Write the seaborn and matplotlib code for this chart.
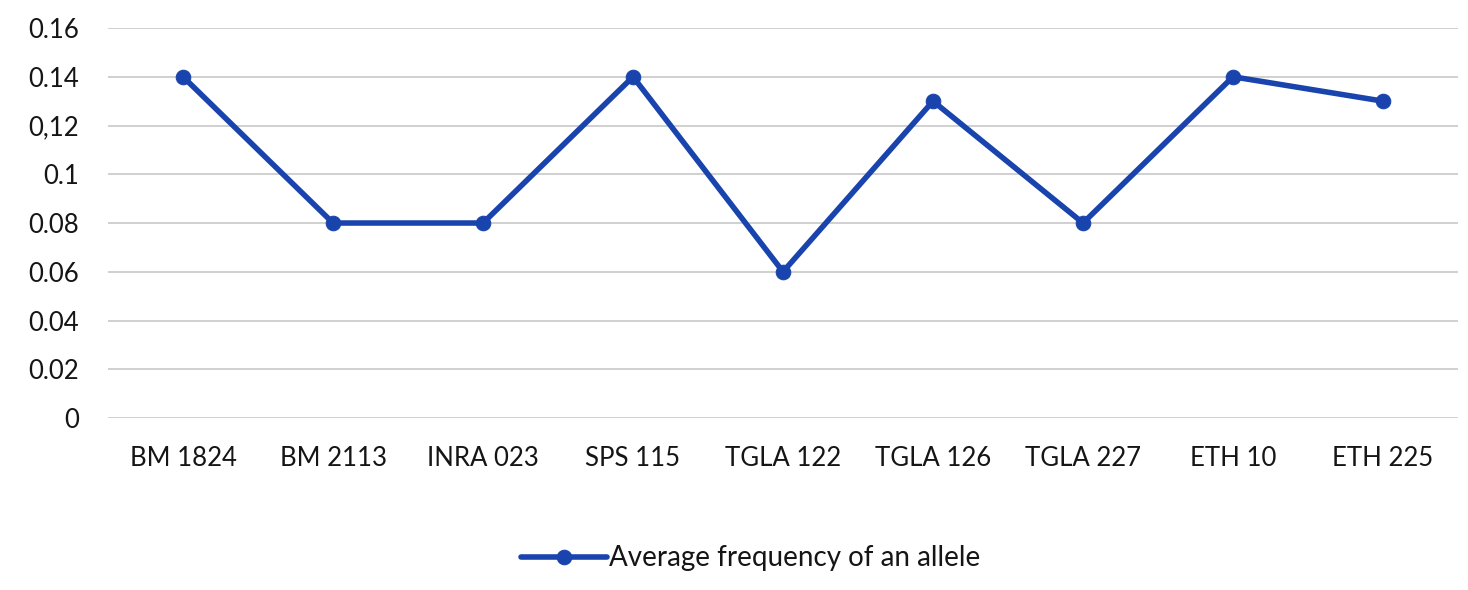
import matplotlib
matplotlib.use("Agg")
import matplotlib.pyplot as plt
import pandas as pd
import seaborn as sns

# data
markers_names = ["BM 1824", "BM 2113", "INRA 023", "SPS 115", "TGLA 122",
                 "TGLA 126", "TGLA 227", "ETH 10", "ETH 225"]
avg_freq = [0.14, 0.08, 0.08, 0.14, 0.06, 0.13, 0.08, 0.14, 0.13]
y_ticks = [0, 0.02, 0.04, 0.06, 0.08, 0.1, 0.12, 0.14, 0.16]
y_tick_labels = ["0", "0.02", "0.04", "0.06", "0.08", "0.1", "0,12", "0.14", "0.16"]
series_name = "Average frequency of an allele"

df = pd.DataFrame({"marker": markers_names, "freq": avg_freq})

sns.set_theme(style="white")
plt.rcParams["font.family"] = ["Lato", "DejaVu Sans"]

fig = plt.figure(figsize=(14.68, 5.9), dpi=100)
ax = fig.add_axes([0.0736, 0.2915, 0.9196, 0.661])

line_col = "#1a44ad"
sns.lineplot(data=df, x="marker", y="freq", sort=False, ax=ax, color=line_col,
             linewidth=4, marker="o", markersize=10.5, markeredgecolor=line_col,
             label=series_name)

ax.set_xlim(-0.5, len(markers_names) - 0.5)
ax.set_ylim(0, 0.16)
ax.set_yticks(y_ticks)
ax.set_yticklabels(y_tick_labels)
ax.yaxis.grid(True, color="#c8c8c8", linewidth=1.2)
ax.set_axisbelow(True)
for s in ax.spines.values():
    s.set_visible(False)
ax.tick_params(axis="both", length=0, labelsize=18.5, colors="#151515")
ax.tick_params(axis="x", pad=20)
ax.tick_params(axis="y", pad=21)
ax.set_xlabel("")
ax.set_ylabel("")

ax.legend(loc="center", bbox_to_anchor=(0.476, -0.36), frameon=False, fontsize=20,
          handlelength=3.1, handletextpad=0.05)
for t in ax.get_legend().get_texts():
    t.set_color("#151515")

fig.savefig("out.png", dpi=100)
